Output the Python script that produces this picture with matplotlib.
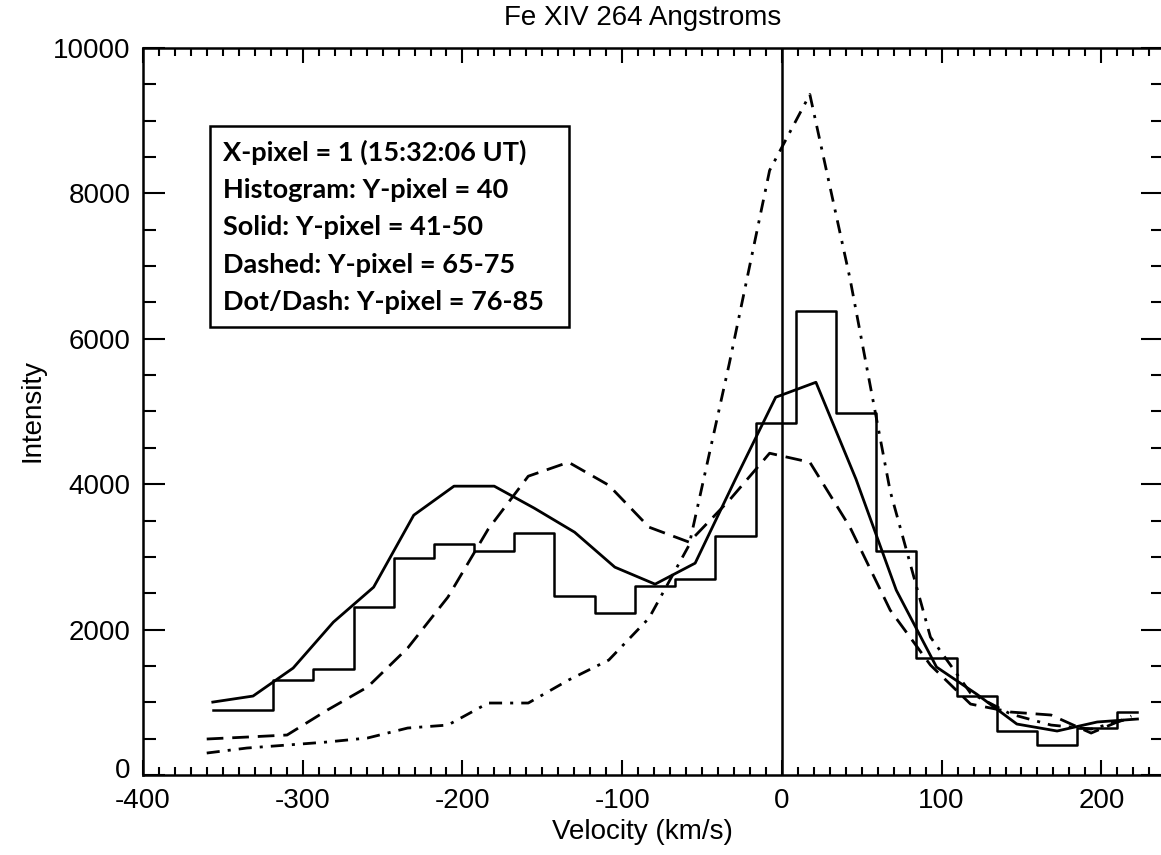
import matplotlib
matplotlib.use("Agg")
import matplotlib.pyplot as plt
import matplotlib.transforms as mtransforms
from matplotlib.patches import Rectangle

# velocity grids (km/s)
vel_a = [-356.3, -331.1, -306.0, -280.8, -255.6, -230.5, -205.3, -180.1,
         -155.0, -129.8, -104.6, -79.4, -54.3, -29.1, -3.9, 21.3,
         46.4, 71.6, 96.8, 121.9, 147.1, 172.3, 197.4, 222.6]
vel_b = [-360.1, -334.9, -309.8, -284.6, -259.4, -234.3, -209.1, -183.9,
         -158.8, -133.6, -108.4, -83.2, -58.1, -32.9, -7.7, 17.5,
         42.6, 67.8, 93.0, 118.1, 143.3, 168.5, 193.6, 218.8]

# histogram: Y-pixel = 40
hist_y = [893, 893, 1306, 1457, 2309, 2983, 3175, 3079, 3326, 2460, 2227, 2598,
          2694, 3285, 4838, 6378, 4976, 3079, 1608, 1086, 605, 412, 646, 866]
# solid: Y-pixel = 41-50
solid_y = [1003, 1086, 1471, 2103, 2584, 3574, 3973, 3973, 3670, 3340, 2859, 2625,
           2914, 4069, 5196, 5402, 4069, 2543, 1485, 1113, 701, 605, 729, 770]
# dashed: Y-pixel = 65-75
dashed_y = [495, 522, 550, 893, 1210, 1746, 2447, 3381, 4110, 4302, 3986, 3409,
            3203, 3780, 4426, 4302, 3409, 2268, 1512, 976, 866, 825, 577, 811]
# dot/dash: Y-pixel = 76-85
dotdash_y = [302, 371, 412, 454, 509, 646, 687, 990, 990, 1306, 1581, 2158,
             3162, 5663, 8316, 9361, 6832, 3904, 1897, 1127, 838, 687, 632, 784]

legend_lines = ["X-pixel = 1 (15:32:06 UT)",
                "Histogram: Y-pixel = 40",
                "Solid: Y-pixel = 41-50",
                "Dashed: Y-pixel = 65-75",
                "Dot/Dash: Y-pixel = 76-85"]

W, H = 1161, 855
plt.rcParams['font.family'] = ['Liberation Sans', 'DejaVu Sans']
plt.rcParams['axes.unicode_minus'] = False
fig = plt.figure(figsize=(W / 100, H / 100), dpi=100)

ax = fig.add_axes([143 / W, 80 / H, (1163 - 143) / W, (775 - 48) / H])

ax.step(vel_a, hist_y, where='mid', color='black', lw=1.8)
ax.plot(vel_a, solid_y, color='black', lw=2.0)
ax.plot(vel_b, dashed_y, color='black', lw=2.0, linestyle=(0, (6.0, 3.2)))
ax.plot(vel_b, dotdash_y, color='black', lw=2.0, linestyle=(0, (4.7, 2.9, 1.1, 2.9)))
ax.axvline(0, color='black', lw=1.8)

ax.set_xlim(-400, 238.6)
ax.set_ylim(0, 10000)
ax.set_xticks([-400, -300, -200, -100, 0, 100, 200])
ax.set_xticks(range(-400, 240, 10), minor=True)
ax.set_yticks(range(0, 10001, 2000))
ax.set_yticks(range(0, 10001, 500), minor=True)

for s in ax.spines.values():
    s.set_linewidth(1.8)

ax.tick_params(which='both', direction='in', top=True, right=True,
               width=1.5, labelsize=20, colors='black')
ax.tick_params(axis='x', which='major', length=10.8, pad=9)
ax.tick_params(axis='x', which='minor', length=5.6)
ax.tick_params(axis='y', which='major', length=16, pad=9)
ax.tick_params(axis='y', which='minor', length=9)

# the "0" label on the y axis sits a little higher, like the original
fig.canvas.draw()
zero_lab = ax.get_yticklabels()[0]
zero_lab.set_transform(zero_lab.get_transform() +
                       mtransforms.ScaledTranslation(0, 7 / 100, fig.dpi_scale_trans))

fig.text(643 / W, 1 - 18 / H, "Fe XIV 264 Angstroms", fontsize=20,
         ha='center', va='center')
fig.text(642 / W, 1 - 832 / H, "Velocity (km/s)", fontsize=20,
         ha='center', va='center')
fig.text(32 / W, 1 - 410 / H, "Intensity", fontsize=20, rotation=90,
         ha='center', va='center')

# annotation box
fig.patches.append(Rectangle((210 / W, 1 - 327 / H), 359 / W, 201 / H,
                             transform=fig.transFigure, fill=False,
                             edgecolor='black', lw=1.8))
line_y = [152, 190, 227, 265, 302]
for txt, yy in zip(legend_lines, line_y):
    fig.text(223 / W, 1 - yy / H, txt, fontsize=19.5, fontweight='bold',
             family=['Lato', 'DejaVu Sans'], ha='left', va='center')

fig.savefig("out.png", dpi=100)
